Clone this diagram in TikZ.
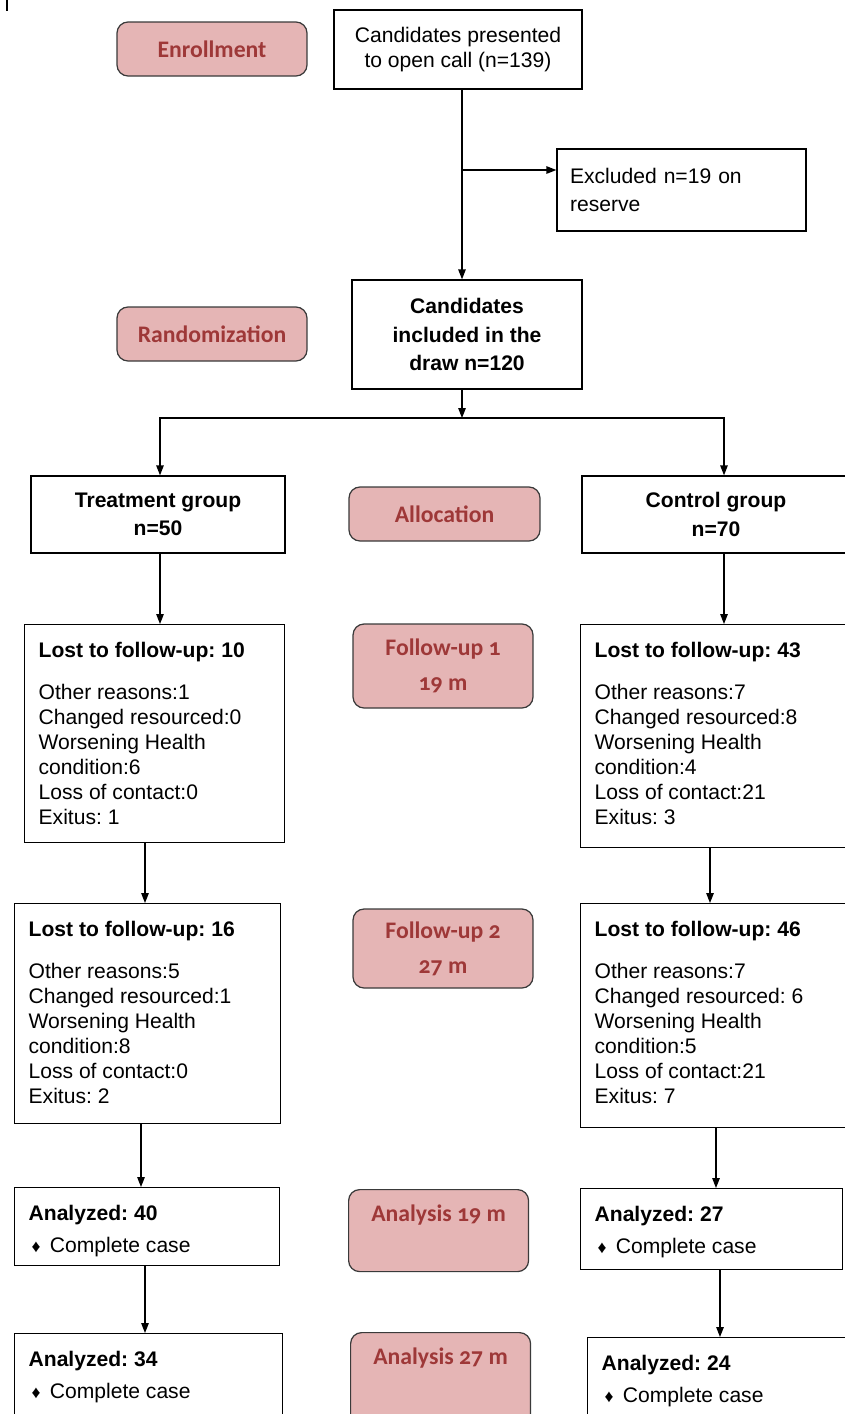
\documentclass[tikz,border=0pt]{standalone}
\usepackage{fontspec}
\setmainfont{Liberation Sans}
\newfontfamily\stagefont[Numbers=OldStyle]{Carlito}
\usepackage{tikz}
\usetikzlibrary{arrows.meta,positioning}
\definecolor{RoseFill}{RGB}{229,181,181}
\definecolor{RoseText}{RGB}{158,56,56}
\definecolor{RoseEdge}{RGB}{58,58,58}
\frenchspacing
\newcommand\topbox[3]{\parbox[c][#1][t]{#2}{#3}}
\newcommand\casemark{{\fontsize{10}{10}\selectfont\,♦}\ \,}
\tikzset{
  box/.style={
    rectangle, draw=black, line width=0.75pt, inner sep=0pt,
    font=\fontsize{12}{14.7}\selectfont
  },
  headbox/.style={box, align=center,
                  font=\fontsize{12}{16}\selectfont\bfseries},
  lostbox/.style={box, anchor=north west,
                  inner xsep=0.28cm, inner ysep=0.35cm,
                  font=\fontsize{12}{14.2}\selectfont},
  stage/.style={
    rectangle, rounded corners=0.22cm,
    fill=RoseFill, draw=RoseEdge, line width=0.7pt,
    text=RoseText, align=center, inner sep=0pt,
    font={\stagefont\bfseries\fontsize{13.5}{19.8}\selectfont}
  },
  flow/.style={-{Triangle[length=2mm,width=1.5mm]},
               line width=0.75pt, color=black}
}

\begin{document}
\begin{tikzpicture}[x=0.02cm, y=-0.02cm]
  \path[use as bounding box, clip] (0,0) rectangle (845,1414);
  \draw[line width=0.75pt] (7,0) -- (7,11);

  % stage labels
  \node[stage, minimum width=3.8cm, minimum height=1.08cm]
    (enr) at (212,49) {Enrollment};
  \node[stage, minimum width=3.8cm, minimum height=1.08cm]
    (rand) at (212,334) {Randomization};
  \node[stage, minimum width=3.82cm, minimum height=1.08cm]
    (alloc) at (444.5,514) {Allocation};
  \node[stage, minimum width=3.6cm, minimum height=1.68cm]
    (fu1) at (443,666) {Follow-up 1\\19 m};
  \node[stage, minimum width=3.6cm, minimum height=1.58cm]
    (fu2) at (443,948.5) {Follow-up 2\\27 m};
  \node[stage, anchor=north west, inner xsep=0.1cm, inner ysep=0.3cm]
    (ana1) at (348,1189) {\topbox{1.04cm}{3.4cm}{\centering Analysis 19 m}};
  \node[stage, anchor=north west, inner xsep=0.1cm, inner ysep=0.3cm]
    (ana2) at (350,1332) {\topbox{1.6cm}{3.4cm}{\centering Analysis 27 m}};

  % enrolment and draw
  \node[box, align=center, minimum width=4.96cm, minimum height=1.58cm]
    (cand) at (458,49.5) {Candidates presented\\to open call (n=139)};
  \node[box, align=left, text width=4.46cm, inner xsep=0.26cm,
        minimum height=1.64cm, font=\fontsize{12}{16.4}\selectfont]
    (excl) at (681.5,190) {Excluded n=19 on\\reserve};
  \node[headbox, minimum width=4.6cm, minimum height=2.18cm,
        font=\fontsize{12}{16.2}\selectfont\bfseries]
    (incl) at (467,334.5) {Candidates\\included in the\\draw n=120};
  \node[headbox, minimum width=5.08cm, minimum height=1.54cm]
    (treat) at (158,514.5) {Treatment group\\n=50};
  \node[headbox, minimum width=5.36cm, minimum height=1.54cm]
    (ctrl) at (716,514.5) {Control group\\n=70};

  % follow-up boxes
  \node[lostbox] (lost1L) at (24,624) {\topbox{3.66cm}{4.64cm}{\raggedright
    \textbf{Lost to follow-up: 10}\\[0.34cm]
    Other reasons:1\\Changed resourced:0\\Worsening Health\\
    condition:6\\Loss of contact:0\\Exitus: 1}};
  \node[lostbox] (lost1R) at (580,624) {\topbox{3.76cm}{4.84cm}{\raggedright
    \textbf{Lost to follow-up: 43}\\[0.34cm]
    Other reasons:7\\Changed resourced:8\\Worsening Health\\
    condition:4\\Loss of contact:21\\Exitus: 3}};
  \node[lostbox] (lost2L) at (14,903) {\topbox{3.70cm}{4.76cm}{\raggedright
    \textbf{Lost to follow-up: 16}\\[0.34cm]
    Other reasons:5\\Changed resourced:1\\Worsening Health\\
    condition:8\\Loss of contact:0\\Exitus: 2}};
  \node[lostbox] (lost2R) at (580,903) {\topbox{3.78cm}{4.84cm}{\raggedright
    \textbf{Lost to follow-up: 46}\\[0.34cm]
    Other reasons:7\\Changed resourced: 6\\Worsening Health\\
    condition:5\\Loss of contact:21\\Exitus: 7}};

  % analysis boxes
  \node[lostbox] (ana1L) at (14,1187) {\topbox{0.86cm}{4.74cm}{\raggedright
    \textbf{Analyzed: 40}\\[0.14cm]\casemark Complete case}};
  \node[lostbox] (ana1R) at (580,1188) {\topbox{0.92cm}{4.68cm}{\raggedright
    \textbf{Analyzed: 27}\\[0.14cm]\casemark Complete case}};
  \node[lostbox] (ana2L) at (14,1333) {\topbox{1.5cm}{4.80cm}{\raggedright
    \textbf{Analyzed: 34}\\[0.14cm]\casemark Complete case}};
  \node[lostbox] (ana2R) at (587,1337) {\topbox{1.5cm}{4.70cm}{\raggedright
    \textbf{Analyzed: 24}\\[0.14cm]\casemark Complete case}};

  % connectors
  \coordinate (spine) at (462,170);
  \coordinate (split) at (462,418);
  \draw[flow] (cand.south -| spine) -- (incl.north -| spine);
  \draw[flow] (spine) -- (excl.west |- spine);
  \draw[flow] (incl.south -| spine) -- (split);
  \draw[flow] (split) -| (treat.north -| 160,0);
  \draw[flow] (split) -| (ctrl.north -| 724,0);

  \foreach \a/\b/\x in {treat/lost1L/160, lost1L/lost2L/145,
                        lost2L/ana1L/141, ana1L/ana2L/145,
                        ctrl/lost1R/724, lost1R/lost2R/710,
                        lost2R/ana1R/716, ana1R/ana2R/720}
    \draw[flow] (\a.south -| \x,0) -- (\b.north -| \x,0);
\end{tikzpicture}
\end{document}
